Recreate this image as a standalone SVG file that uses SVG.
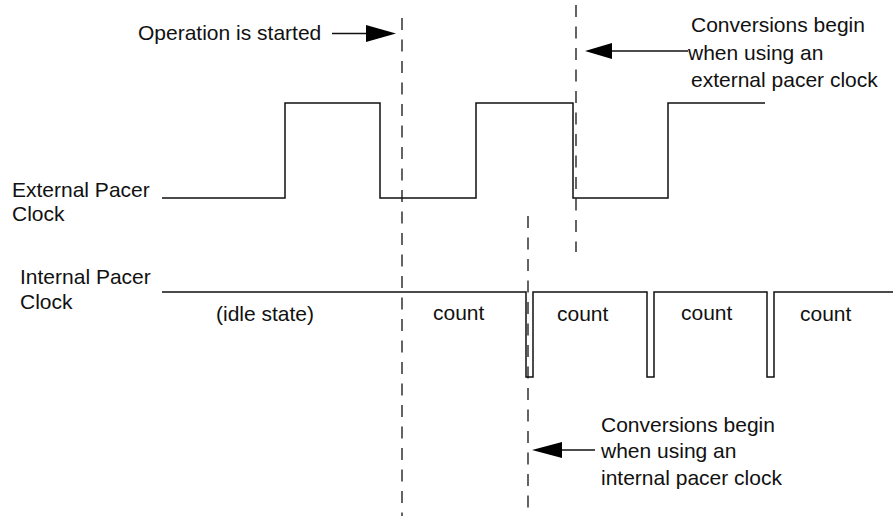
<svg xmlns="http://www.w3.org/2000/svg" width="894" height="516" viewBox="0 0 894 516">
<defs>
<style>
.t{font-family:"Liberation Sans",Arial,sans-serif;font-size:21px;fill:#111}
.sig{fill:none;stroke:#111;stroke-width:1.5}
.dash{fill:none;stroke:#111;stroke-width:1.3;stroke-dasharray:12 9.5}
.ln{fill:none;stroke:#111;stroke-width:1.3}
.head{fill:#000}
</style>
</defs>
<rect width="894" height="516" fill="#fff"/>
<g id="external-clock">
<text class="t" x="12" y="197">External Pacer</text>
<text class="t" x="12" y="221">Clock</text>
<path class="sig" d="M162,198 H285 V103 H380 V198 H476 V103 H573 V198 H668 V103 H765"/>
</g>
<g id="internal-clock">
<text class="t" x="20" y="284">Internal Pacer</text>
<text class="t" x="20" y="309">Clock</text>
<path class="sig" d="M162,292 H526 V377 H533 V292 H647 V377 H654 V292 H767 V377 H774 V292 H893"/>
<text class="t" x="216" y="321">(idle state)</text>
<text class="t" x="433" y="320">count</text>
<text class="t" x="557" y="321">count</text>
<text class="t" x="681" y="320">count</text>
<text class="t" x="800" y="321">count</text>
</g>
<g id="label-start">
<text class="t" x="138" y="40">Operation is started</text>
</g>
<g id="label-external">
<text class="t" x="691" y="32">Conversions begin</text>
<text class="t" x="688" y="59.5">when using an</text>
<text class="t" x="691" y="87">external pacer clock</text>
</g>
<g id="label-internal">
<text class="t" x="601" y="432">Conversions begin</text>
<text class="t" x="601" y="458">when using an</text>
<text class="t" x="601" y="485">internal pacer clock</text>
</g>
<g id="connectors">
<path class="dash" d="M402,18 V516"/>
<path class="dash" d="M576,5 V252"/>
<path class="dash" d="M528,216 V516"/>
<path class="ln" d="M332,33.5 H368"/>
<polygon class="head" points="366,25 396,33.5 366,42"/>
<path class="ln" d="M610,51 H688"/>
<polygon class="head" points="612,43 585,51 612,59"/>
<path class="ln" d="M560,450 H595"/>
<polygon class="head" points="562,442 532,450 562,458"/>
</g>
</svg>
